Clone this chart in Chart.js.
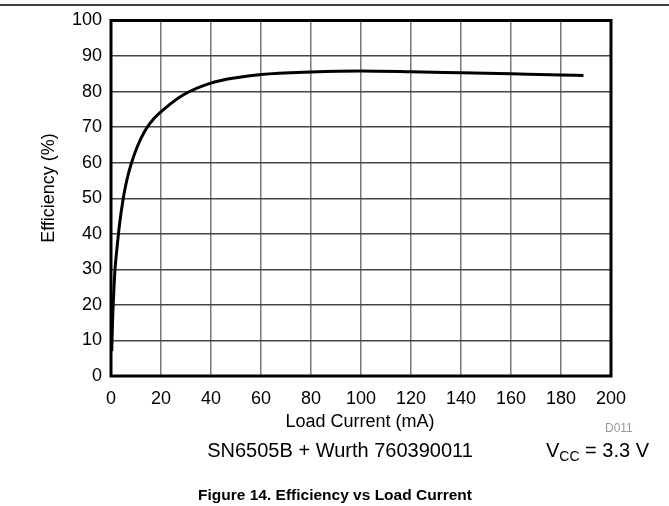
<!DOCTYPE html>
<html><head><meta charset="utf-8">
<script src="https://cdn.jsdelivr.net/npm/chart.js@4/dist/chart.umd.min.js"></script>
<style>html,body{margin:0;padding:0;background:#fff}#wrap{width:669px;height:506px;position:relative}</style>
</head><body><div id="wrap"><canvas id="c"></canvas></div>
<script>
const loadCurrent = [0.3, 0.6, 1.0, 1.6, 2.4, 3.3, 4.9, 6.3, 8, 10.5, 13.6, 17, 21.6, 29, 39.6, 50, 60, 80, 100, 120, 140, 160, 180, 189];
const efficiency  = [7, 15, 22, 30, 36, 42, 50, 55, 59.5, 64.5, 69, 72.3, 75.3, 79.1, 82.3, 83.9, 84.8, 85.5, 85.8, 85.6, 85.3, 85.0, 84.7, 84.5];
const xTicks = [0,20,40,60,80,100,120,140,160,180,200];
const yTicks = [0,10,20,30,40,50,60,70,80,90,100];
const FONT = '"Liberation Sans", Arial, sans-serif';

const textPlugin = {
  id: 'texts',
  afterDraw(chart) {
    const ctx = chart.ctx, a = chart.chartArea;
    ctx.save();
    ctx.strokeStyle = '#000'; ctx.lineWidth = 3;
    ctx.strokeRect(a.left, a.top, a.right - a.left, a.bottom - a.top);
    ctx.lineWidth = 1.5;
    ctx.beginPath(); ctx.moveTo(0, 5); ctx.lineTo(669, 5); ctx.stroke();
    ctx.fillStyle = '#000';
    ctx.textBaseline = 'alphabetic';
    ctx.save();
    ctx.translate(54, 188);
    ctx.rotate(-Math.PI / 2);
    ctx.textAlign = 'center';
    ctx.font = '18px ' + FONT;
    ctx.fillText('Efficiency (%)', 0, 0);
    ctx.restore();
    ctx.textAlign = 'center';
    ctx.font = '18px ' + FONT;
    ctx.fillText('Load Current (mA)', 360, 427);
    ctx.textAlign = 'left';
    ctx.fillStyle = '#999';
    ctx.font = '12px ' + FONT;
    ctx.fillText('D011', 605, 432);
    ctx.fillStyle = '#000';
    ctx.textAlign = 'center';
    ctx.font = '20px ' + FONT;
    ctx.fillText('SN6505B + Wurth 760390011', 340, 457);
    ctx.textAlign = 'left';
    let x = 546;
    ctx.fillText('V', x, 456.5); x += ctx.measureText('V').width;
    ctx.font = '14px ' + FONT;
    ctx.fillText('CC', x, 461); x += ctx.measureText('CC').width;
    ctx.font = '20px ' + FONT;
    ctx.fillText(' = 3.3 V', x, 456.5);
    ctx.textAlign = 'center';
    ctx.font = 'bold 15.5px ' + FONT;
    ctx.fillText('Figure 14. Efficiency vs Load Current', 335, 500);
    ctx.restore();
  }
};

new Chart(document.getElementById('c'), {
  type: 'scatter',
  data: {
    datasets: [{
      data: loadCurrent.map((v, i) => ({x: v, y: efficiency[i]})),
      showLine: true,
      borderColor: '#000',
      borderWidth: 3,
      pointRadius: 0,
      cubicInterpolationMode: 'monotone',
      fill: false
    }]
  },
  options: {
    responsive: true,
    maintainAspectRatio: false,
    animation: false,
    devicePixelRatio: 1,
    layout: {padding: {left: 0, top: 20.5, right: 58, bottom: 0}},
    plugins: {legend: {display: false}, tooltip: {enabled: false}},
    scales: {
      x: {
        type: 'linear', min: 0, max: 200,
        afterBuildTicks: s => { s.ticks = xTicks.map(v => ({value: v})); },
        afterFit: s => { s.height = 130; },
        ticks: {color: '#000', font: {family: FONT, size: 18}, padding: 12, maxRotation: 0},
        grid: {color: '#777', lineWidth: 1.5, drawTicks: false},
        border: {display: false}
      },
      y: {
        min: 0, max: 100,
        afterBuildTicks: s => { s.ticks = yTicks.map(v => ({value: v})); },
        afterFit: s => { s.width = 111; },
        ticks: {color: '#000', font: {family: FONT, size: 18}, padding: 9},
        grid: {color: '#444', lineWidth: 1.5, drawTicks: false},
        border: {display: false}
      }
    }
  },
  plugins: [textPlugin]
});
</script>
</body></html>
